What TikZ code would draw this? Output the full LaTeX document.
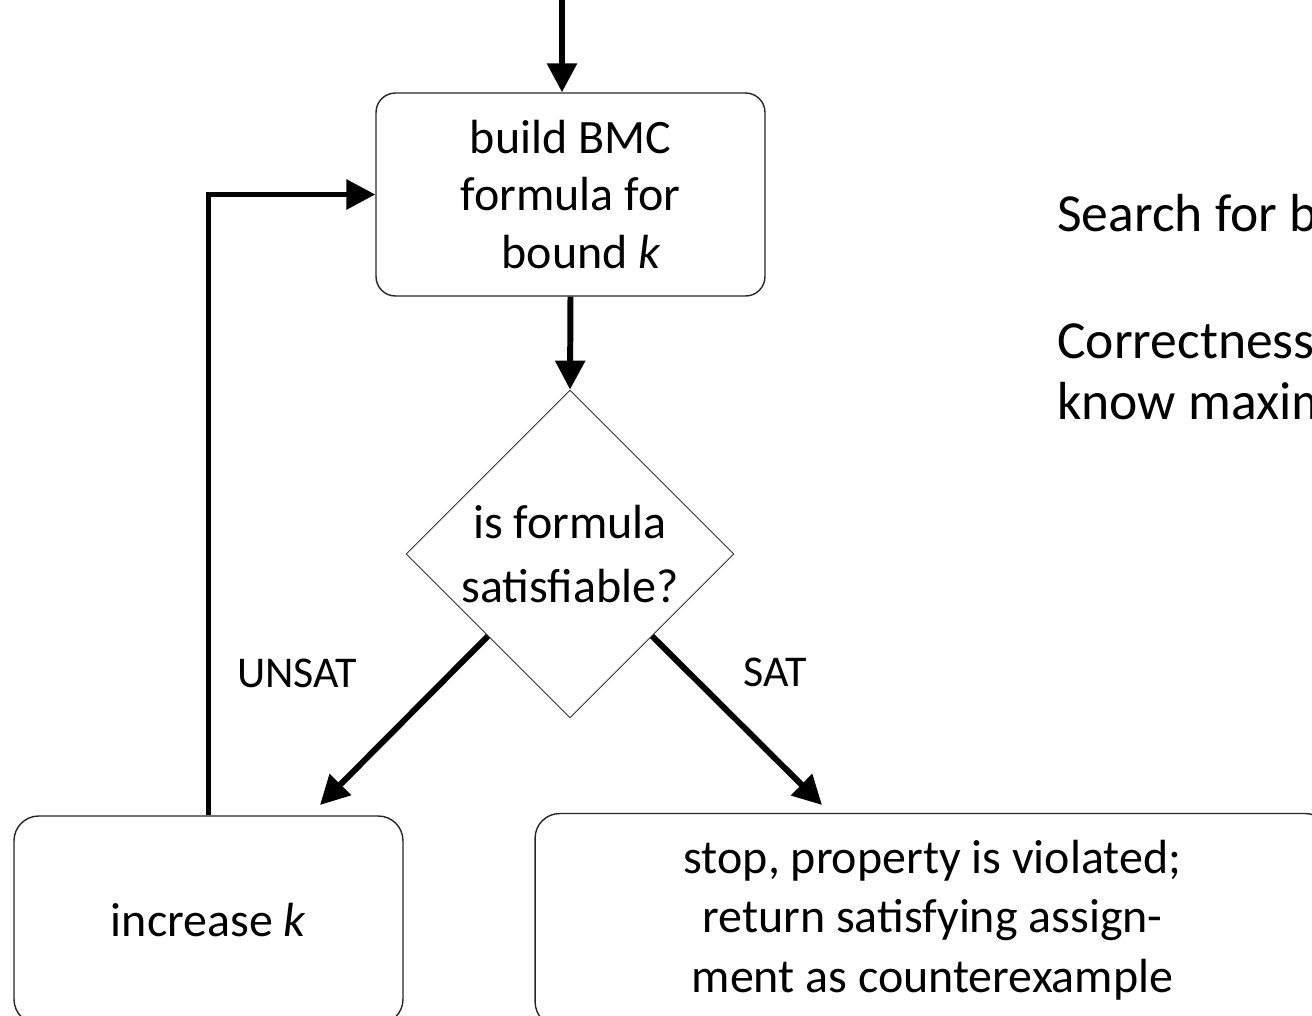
\documentclass[tikz,border=0pt]{standalone}
\usepackage{fontspec}
\setmainfont{Carlito}
\usetikzlibrary{arrows.meta,shapes.geometric}
\begin{document}
\begin{tikzpicture}[x=0.02cm,y=-0.02cm,
  box/.style={draw=black!85, line width=0.8pt, inner sep=0pt, align=center,
    font=\fontsize{27.3}{33}\selectfont},
  dec/.style={draw=black!80, line width=0.5pt, diamond, aspect=1, inner sep=0pt,
    minimum width=6.56cm, minimum height=6.56cm, align=center,
    font=\fontsize{27.3}{36}\selectfont},
  flow/.style={line width=3.4pt, -{Triangle[length=16.5pt,width=16.5pt]}},
  lbl/.style={font=\fontsize{25}{30}\selectfont},
  side/.style={font=\fontsize{30.5}{37}\selectfont, anchor=base west, inner sep=0pt}]
\useasboundingbox (0,0) rectangle (1312,1015);
\clip (0,0) rectangle (1312,1015);
% nodes
\node[box, rounded corners=11pt, minimum width=7.78cm, minimum height=4.06cm] (b1) at (570.5,194.5)
  {build BMC\\formula for\\\ \ bound \textit{k}};
\node[dec] (d) at (570,554) {is formula\\satisfiable?};
\node[box, rounded corners=14pt, minimum width=7.78cm, minimum height=4.16cm] (b3) at (208.5,920)
  {increase \textit{k}};
\node[box, rounded corners=14pt, minimum width=15.9cm, minimum height=4.26cm,
  font=\fontsize{27.3}{34}\selectfont] (b4) at (932.5,920)
  {stop, property is violated;\\return satisfying assign-\\ment as counterexample};
% labels
\node[lbl] (unsat) at (297,673) {UNSAT};
\node[lbl] (sat) at (775,672) {SAT};
% side text
\node[side] (s1) at (1057,231) {Search for b};
\node[side] (s2) at (1057,358) {Correctness};
\node[side] (s3) at (1057,419) {know maxim};
% connectors
\coordinate (top) at (562,-5);
\coordinate (t1) at (320,805);
\coordinate (t2) at (822,805);
\draw[flow] (top) -- (top |- b1.north);
\draw[flow] (b1.south) -- (d.north);
\draw[flow] (d.south west) -- (t1);
\draw[flow] (d.south east) -- (t2);
\draw[flow] (b3.north) |- (b1.west);
\end{tikzpicture}
\end{document}
